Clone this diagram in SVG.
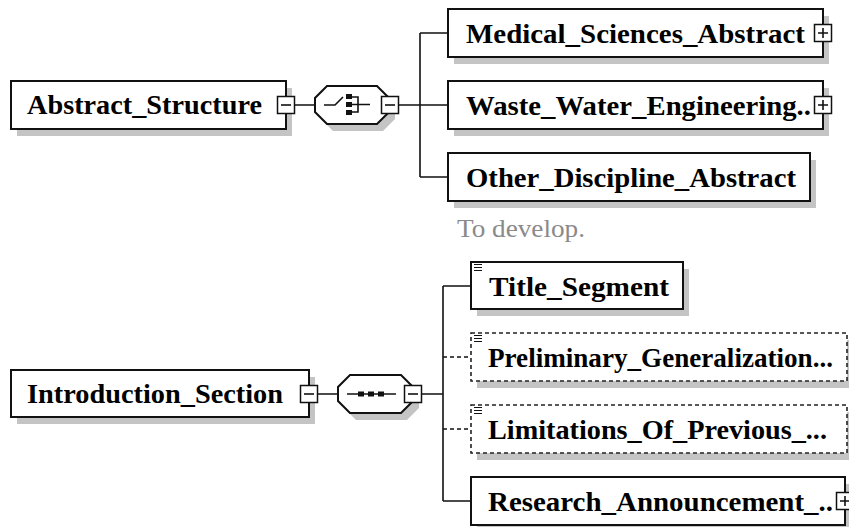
<svg xmlns="http://www.w3.org/2000/svg" width="849" height="527" viewBox="0 0 849 527">
<style>
.box{fill:#fff;stroke:#111;stroke-width:2}
.dbox{fill:#fff;stroke:#222;stroke-width:1.6;stroke-dasharray:4 3}
.sh{fill:#c4c4c4}
.lbl{font-family:"Liberation Serif","Times New Roman",serif;font-weight:bold;font-size:27px;fill:#000}
.note{font-family:"Liberation Serif","Times New Roman",serif;font-size:26px;fill:#8a8a8a}
.ln{fill:none;stroke:#111;stroke-width:1.6}
.dln{fill:none;stroke:#111;stroke-width:1.6;stroke-dasharray:4 3}
.btn{fill:#fff;stroke:#111;stroke-width:1.5}
.sym{fill:none;stroke:#111;stroke-width:1.6}
.dot{fill:#111}
</style>
<defs>
<g id="minus"><rect class="btn" x="-8.5" y="-8.5" width="17" height="17"/><path class="sym" d="M-5 0H5"/></g>
<g id="plus"><rect class="btn" x="-8.5" y="-8.5" width="17" height="17"/><path class="sym" d="M-5 0H5M0 -5V5"/></g>
<g id="icon"><path d="M0 0.5H8M0 3.5H8M0 6.5H8" stroke="#111" stroke-width="1.2"/></g>
</defs>

<g id="connectors">
<path class="ln" d="M295 105H315M399 105H420M420 33V177M420 33H448M420 105H448M420 177H448"/>
<path class="ln" d="M318 394H338M422 394H443M443 286V501M443 286H471M443 501H471"/>
<path class="dln" d="M443 357H471M443 429H471"/>
</g>

<g id="abstract_structure">
<rect class="sh" x="17" y="88" width="275" height="48"/>
<rect class="box" x="11" y="81" width="275" height="48"/>
<text class="lbl" x="27" y="114" textLength="235" lengthAdjust="spacingAndGlyphs">Abstract_Structure</text>
<use href="#minus" x="286" y="105"/>
</g>

<g id="choice">
<polygon class="sh" points="333,93 383,93 395,105 395,119 383,131 333,131 321,119 321,105"/>
<polygon class="box" points="327,86 377,86 389,98 389,112 377,124 327,124 315,112 315,98"/>
<path class="sym" d="M324 105H335L343 97M352 97H358V112H352M352 104.5H370"/>
<rect class="dot" x="346" y="94" width="6" height="5"/>
<rect class="dot" x="346" y="102" width="6" height="5"/>
<rect class="dot" x="346" y="110" width="6" height="5"/>
<use href="#minus" x="390" y="105"/>
</g>

<g id="medical_sciences_abstract">
<rect class="sh" x="454" y="16" width="375" height="48"/>
<rect class="box" x="448" y="9" width="375" height="48"/>
<text class="lbl" x="466" y="43" textLength="339" lengthAdjust="spacingAndGlyphs">Medical_Sciences_Abstract</text>
<use href="#plus" x="823" y="33"/>
</g>

<g id="waste_water_engineering">
<rect class="sh" x="454" y="88" width="375" height="48"/>
<rect class="box" x="448" y="81" width="375" height="48"/>
<text class="lbl" x="466" y="115" textLength="345" lengthAdjust="spacingAndGlyphs">Waste_Water_Engineering..</text>
<use href="#plus" x="823" y="105"/>
</g>

<g id="other_discipline_abstract">
<rect class="sh" x="454" y="160" width="362" height="48"/>
<rect class="box" x="448" y="153" width="362" height="48"/>
<text class="lbl" x="466" y="187" textLength="330" lengthAdjust="spacingAndGlyphs">Other_Discipline_Abstract</text>
<text class="note" x="457" y="237" textLength="128" lengthAdjust="spacingAndGlyphs">To develop.</text>
</g>

<g id="introduction_section">
<rect class="sh" x="17" y="377" width="298" height="47"/>
<rect class="box" x="11" y="370" width="298" height="47"/>
<text class="lbl" x="27" y="403" textLength="256" lengthAdjust="spacingAndGlyphs">Introduction_Section</text>
<use href="#minus" x="309" y="394"/>
</g>

<g id="sequence">
<polygon class="sh" points="356,382 407,382 419,394 419,408 407,420 356,420 344,408 344,394"/>
<polygon class="box" points="350,375 401,375 413,387 413,401 401,413 350,413 338,401 338,387"/>
<path class="sym" d="M347 394H396"/>
<rect class="dot" x="358" y="391.5" width="6" height="5"/>
<rect class="dot" x="368" y="391.5" width="6" height="5"/>
<rect class="dot" x="378" y="391.5" width="6" height="5"/>
<use href="#minus" x="413" y="394"/>
</g>

<g id="title_segment">
<rect class="sh" x="477" y="269" width="212" height="47"/>
<rect class="box" x="471" y="262" width="212" height="47"/>
<use href="#icon" x="474" y="264"/>
<text class="lbl" x="489" y="296" textLength="180" lengthAdjust="spacingAndGlyphs">Title_Segment</text>
</g>

<g id="preliminary_generalization">
<rect class="sh" x="477" y="340" width="376" height="48"/>
<rect class="dbox" x="471" y="333" width="376" height="48"/>
<use href="#icon" x="474" y="335"/>
<text class="lbl" x="488" y="367" textLength="345" lengthAdjust="spacingAndGlyphs">Preliminary_Generalization...</text>
</g>

<g id="limitations_of_previous">
<rect class="sh" x="477" y="412" width="376" height="48"/>
<rect class="dbox" x="471" y="405" width="376" height="48"/>
<use href="#icon" x="474" y="407"/>
<text class="lbl" x="488" y="439" textLength="339" lengthAdjust="spacingAndGlyphs">Limitations_Of_Previous_...</text>
</g>

<g id="research_announcement">
<rect class="sh" x="477" y="484" width="374" height="48"/>
<rect class="box" x="471" y="477" width="374" height="48"/>
<text class="lbl" x="488" y="511" textLength="345" lengthAdjust="spacingAndGlyphs">Research_Announcement_..</text>
<use href="#plus" x="845" y="501"/>
</g>
</svg>
